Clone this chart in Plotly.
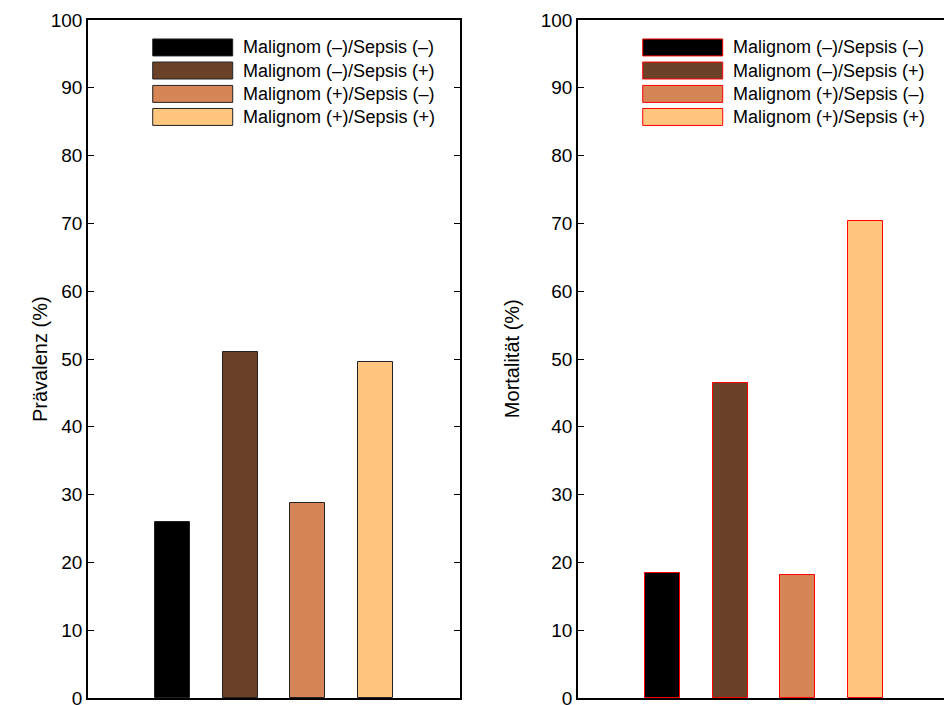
import plotly.graph_objects as go
from plotly.subplots import make_subplots

groups = ["Malignom (\u2013)/Sepsis (\u2013)", "Malignom (\u2013)/Sepsis (+)",
          "Malignom (+)/Sepsis (\u2013)", "Malignom (+)/Sepsis (+)"]
positions = [1, 2, 3, 4]
praevalenz = [25.9, 51.1, 28.7, 49.5]
mortalitaet = [18.5, 46.4, 18.2, 70.3]
colors = ["#000000", "#6B4228", "#D58556", "#FFC680"]
y_ticks = [0, 10, 20, 30, 40, 50, 60, 70, 80, 90, 100]

FONT = "Liberation Sans, Arial, sans-serif"
W, H = 956, 705
L, T, B = 88, 20, 7
GAP = 578 - 460

fig = make_subplots(rows=1, cols=2, horizontal_spacing=GAP / (W - L - 6))

panels = [(praevalenz, "#222222", "Prävalenz (%)", -0.129),
          (mortalitaet, "#FF0000", "Mortalität (%)", -0.177)]
for c, (vals, lc, title, tx) in enumerate(panels, start=1):
    for i in range(4):
        fig.add_trace(go.Bar(x=[positions[i]], y=[vals[i]], width=0.52,
                             marker=dict(color=colors[i], line=dict(color=lc, width=1)),
                             name=groups[i], showlegend=False), row=1, col=c)
    fig.update_xaxes(range=[-0.255, 5.255], showticklabels=False, ticks="",
                     showline=True, linecolor="black", linewidth=1.5, mirror=True,
                     showgrid=False, zeroline=False, automargin=False, row=1, col=c)
    fig.update_yaxes(range=[0, 100], tickvals=y_ticks, ticks="inside", ticklen=6,
                     tickcolor="black", tickwidth=1, mirror="ticks", showline=True,
                     linecolor="black", linewidth=1.5, showgrid=False, zeroline=False,
                     ticklabeloverflow="allow", automargin=False,
                     tickfont=dict(size=19, color="black", family=FONT),
                     row=1, col=c)
    xd = "x domain" if c == 1 else "x2 domain"
    yd = "y domain" if c == 1 else "y2 domain"
    fig.add_annotation(xref=xd, yref=yd, x=tx, y=0.5, text=title, textangle=-90,
                       showarrow=False, xanchor="center", yanchor="middle",
                       font=dict(size=20, color="black", family=FONT))
    # legend (drawn as swatches + text)
    row_centers = [0.9595, 0.9255, 0.8910, 0.8570]
    for i in range(4):
        yc = row_centers[i]
        fig.add_shape(type="rect", xref=xd, yref=yd, x0=0.174, x1=0.389,
                      y0=yc - 0.0125, y1=yc + 0.0125, fillcolor=colors[i],
                      line=dict(color=lc, width=1))
        fig.add_annotation(xref=xd, yref=yd, x=0.411, y=yc, text=groups[i],
                           showarrow=False, xanchor="left", yanchor="middle",
                           font=dict(size=18, color="black", family=FONT))

fig.update_layout(width=W, height=H, margin=dict(l=L, r=6, t=T, b=B),
                  paper_bgcolor="white", plot_bgcolor="white", bargap=0,
                  showlegend=False)

fig.write_html("out.html", config={"displayModeBar": False},
               post_script="document.body.style.margin='0';document.body.style.overflow='hidden';document.documentElement.style.overflow='hidden';")
